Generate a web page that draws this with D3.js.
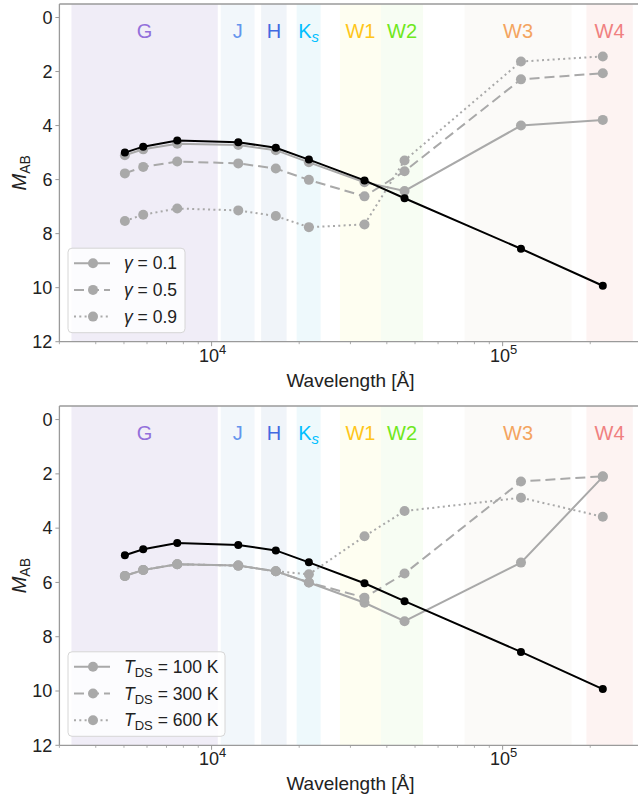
<!DOCTYPE html>
<html>
<head>
<meta charset="utf-8">
<script src="https://cdn.jsdelivr.net/npm/d3@7"></script>
<style>
  html, body { margin: 0; padding: 0; background: #fff; }
  svg { display: block; font-family: "Liberation Sans", Arial, Helvetica, sans-serif; }
</style>
</head>
<body>
<svg id="chart" width="638" height="800"></svg>
<script>
// ---------- data ----------
const bandNames  = ["G", "J", "H", "Ks", "W1", "W2", "W3", "W4"];
const bandLo     = [3300, 10750, 14800, 19600, 27600, 38200, 74000, 194000];
const bandHi     = [10500, 14050, 18100, 23700, 38200, 53300, 172500, 280000];
const bandColors = ["#9370db", "#6495ed", "#4169e1", "#00bfff", "#ffc61a", "#6fe81c", "#f4a460", "#f08080"];
const bandFills  = ["#f0edf7", "#f2f7fb", "#f0f4f9", "#eef9fc", "#fefef1", "#f7fdf3", "#fbfaf8", "#fdf3f2"];

const wavelengths = [5036, 5822, 7620, 12350, 16620, 21590, 33526, 46028, 115608, 220883];
const intrinsic   = [5.00, 4.78, 4.55, 4.62, 4.82, 5.26, 6.03, 6.69, 8.56, 9.93];

const gammaLabels = ["0.1", "0.5", "0.9"];
const gamma01 = [5.10, 4.88, 4.67, 4.72, 4.91, 5.36, 6.10, 6.42, 4.00, 3.79];
const gamma05 = [5.77, 5.53, 5.33, 5.40, 5.59, 6.01, 6.62, 5.69, 2.29, 2.06];
const gamma09 = [7.53, 7.30, 7.07, 7.14, 7.35, 7.76, 7.66, 5.29, 1.63, 1.44];

const tdsLabels = ["100", "300", "600"];
const tds100 = [5.76, 5.54, 5.33, 5.38, 5.59, 6.00, 6.75, 7.43, 5.27, 2.11];
const tds300 = [5.76, 5.54, 5.33, 5.38, 5.59, 6.00, 6.56, 5.67, 2.28, 2.09];
const tds600 = [5.76, 5.54, 5.33, 5.38, 5.59, 5.70, 4.30, 3.37, 2.88, 3.58];

const yTicks = [0, 2, 4, 6, 8, 10, 12];
const xMajorTicks = [1e4, 1e5];
const xDomain = [3000, 300000];
const yDomain = [-0.5, 12];

// ---------- layout ----------
const svg = d3.select("#chart");
const X0 = 59.4, X1 = 641.5;
const GRAY = "#a9a9a9";
const dashes = [null, "10,5", "2,3.3"];

const panels = [
  { top: 4, bottom: 341.7, series: [gamma01, gamma05, gamma09], legend: gammaLabels, kind: "gamma", legendW: 117 },
  { top: 406, bottom: 745.3, series: [tds100, tds300, tds600], legend: tdsLabels, kind: "tds", legendW: 157 }
];

const x = d3.scaleLog().domain(xDomain).range([X0, X1]);

// minor tick values
const xMinor = [];
for (let e = 3; e <= 5; e++) for (let k = 1; k <= 9; k++) {
  const v = k * Math.pow(10, e);
  if (v >= xDomain[0] && v <= xDomain[1] && k !== 1) xMinor.push(v);
}

panels.forEach((p, pi) => {
  const y = d3.scaleLinear().domain(yDomain).range([p.top, p.bottom]);
  const g = svg.append("g");
  const clipId = "clip" + pi;
  svg.append("clipPath").attr("id", clipId)
    .append("rect").attr("x", X0).attr("y", p.top).attr("width", X1 - X0).attr("height", p.bottom - p.top);

  const plot = g.append("g").attr("clip-path", `url(#${clipId})`);

  // bands
  plot.selectAll("rect.band").data(bandNames).enter().append("rect")
    .attr("x", (d, i) => x(bandLo[i]))
    .attr("width", (d, i) => x(bandHi[i]) - x(bandLo[i]))
    .attr("y", p.top).attr("height", p.bottom - p.top)
    .attr("fill", (d, i) => bandFills[i]);

  // band labels
  bandNames.forEach((name, i) => {
    const cx = Math.sqrt(bandLo[i] * bandHi[i]);
    const t = g.append("text")
      .attr("x", x(cx)).attr("y", p.top + 34)
      .attr("text-anchor", "middle")
      .attr("font-size", 20)
      .attr("fill", bandColors[i]);
    if (name === "Ks") {
      t.append("tspan").text("K");
      t.append("tspan").attr("font-style", "italic").attr("font-size", 15).attr("dy", 4).text("s");
    } else {
      t.text(name);
    }
  });

  // gray series
  const line = d3.line().x((d, i) => x(wavelengths[i])).y(d => y(d));
  p.series.forEach((s, si) => {
    plot.append("path").datum(s)
      .attr("d", line)
      .attr("fill", "none")
      .attr("stroke", GRAY)
      .attr("stroke-width", 2)
      .attr("stroke-dasharray", dashes[si]);
    plot.selectAll(null).data(s).enter().append("circle")
      .attr("cx", (d, i) => x(wavelengths[i]))
      .attr("cy", d => y(d))
      .attr("r", 5)
      .attr("fill", GRAY);
  });

  // intrinsic black
  plot.append("path").datum(intrinsic)
    .attr("d", line).attr("fill", "none")
    .attr("stroke", "#000").attr("stroke-width", 2);
  plot.selectAll(null).data(intrinsic).enter().append("circle")
    .attr("cx", (d, i) => x(wavelengths[i]))
    .attr("cy", d => y(d))
    .attr("r", 4)
    .attr("fill", "#000");

  // spines
  const spine = "#9a9a9a";
  g.append("line").attr("x1", X0).attr("x2", X0).attr("y1", p.top).attr("y2", p.bottom).attr("stroke", spine).attr("stroke-width", 1.3);
  g.append("line").attr("x1", X0).attr("x2", X1).attr("y1", p.top).attr("y2", p.top).attr("stroke", spine).attr("stroke-width", 1.3);
  g.append("line").attr("x1", X0).attr("x2", X1).attr("y1", p.bottom).attr("y2", p.bottom).attr("stroke", spine).attr("stroke-width", 1.3);
  g.append("line").attr("x1", X1).attr("x2", X1).attr("y1", p.top).attr("y2", p.bottom).attr("stroke", spine).attr("stroke-width", 1.3);

  // y axis ticks
  yTicks.forEach(v => {
    g.append("line").attr("x1", X0 - 4).attr("x2", X0).attr("y1", y(v)).attr("y2", y(v)).attr("stroke", spine).attr("stroke-width", 1);
    g.append("text").attr("x", X0 - 7).attr("y", y(v)).attr("dy", "0.35em")
      .attr("text-anchor", "end").attr("font-size", 18).attr("fill", "#222").text(v);
  });

  // x ticks
  xMinor.forEach(v => {
    g.append("line").attr("x1", x(v)).attr("x2", x(v)).attr("y1", p.bottom).attr("y2", p.bottom + 2.5).attr("stroke", spine).attr("stroke-width", 0.8);
  });
  xMajorTicks.forEach(v => {
    g.append("line").attr("x1", x(v)).attr("x2", x(v)).attr("y1", p.bottom).attr("y2", p.bottom + 4.5).attr("stroke", spine).attr("stroke-width", 1);
    const t = g.append("text").attr("x", x(v) + 1).attr("y", p.bottom + 20)
      .attr("text-anchor", "middle").attr("font-size", 18).attr("fill", "#222");
    t.append("tspan").text("10");
    t.append("tspan").attr("font-size", 13).attr("dy", -8).text(Math.round(Math.log10(v)));
  });

  // axis labels
  g.append("text").attr("x", (X0 + X1) / 2).attr("y", p.bottom + 45)
    .attr("text-anchor", "middle").attr("font-size", 19).attr("fill", "#222")
    .text("Wavelength [Å]");

  const yl = g.append("text")
    .attr("transform", `translate(26,${(p.top + p.bottom) / 2}) rotate(-90)`)
    .attr("text-anchor", "middle").attr("font-size", 20).attr("fill", "#222");
  yl.append("tspan").attr("font-style", "italic").text("M");
  yl.append("tspan").attr("font-size", 14).attr("dy", 4).text("AB");

  // legend
  const lx = 68, ly = p.bottom - 93.5, lw = p.legendW, lh = 84.5;
  const lg = g.append("g");
  lg.append("rect").attr("x", lx).attr("y", ly).attr("width", lw).attr("height", lh)
    .attr("rx", 4).attr("fill", "#fff").attr("fill-opacity", 0.8)
    .attr("stroke", "#d6d6d6").attr("stroke-width", 1);
  p.legend.forEach((lab, li) => {
    const yy = ly + 15 + li * 26.7;
    lg.append("line").attr("x1", lx + 6).attr("x2", lx + 42).attr("y1", yy).attr("y2", yy)
      .attr("stroke", GRAY).attr("stroke-width", 2).attr("stroke-dasharray", dashes[li]);
    lg.append("circle").attr("cx", lx + 25).attr("cy", yy).attr("r", 5).attr("fill", GRAY);
    const t = lg.append("text").attr("x", lx + 56).attr("y", yy).attr("dy", "0.35em")
      .attr("font-size", 17.5).attr("fill", "#222");
    if (p.kind === "gamma") {
      t.append("tspan").attr("font-style", "italic").text("γ");
      t.append("tspan").text(" = " + lab);
    } else {
      t.append("tspan").attr("font-style", "italic").text("T");
      t.append("tspan").attr("font-size", 13).attr("dy", 4).text("DS");
      t.append("tspan").attr("dy", -4).text(" = " + lab + " K");
    }
  });
});
</script>
</body>
</html>
